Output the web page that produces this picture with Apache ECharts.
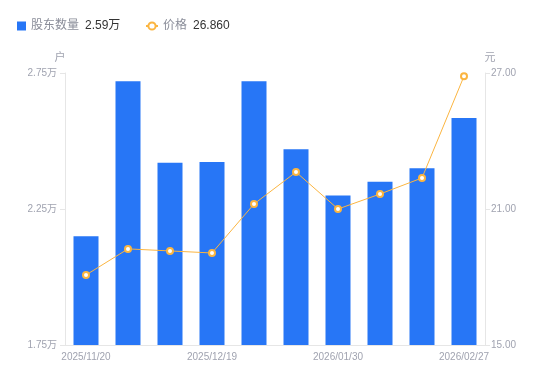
<!DOCTYPE html>
<html><head><meta charset="utf-8">
<script src="https://cdn.jsdelivr.net/npm/echarts@6/dist/echarts.min.js"></script>
<style>html,body{margin:0;padding:0;background:#fff}#c{width:550px;height:381px}</style>
</head><body><div id="c"></div>
<script>
const categories = ['2025/11/20','2025/11/30','2025/12/10','2025/12/19','2025/12/31','2026/01/20','2026/01/30','2026/02/10','2026/02/20','2026/02/27'];
const holders = [2.15, 2.72, 2.42, 2.423, 2.72, 2.47, 2.30, 2.35, 2.40, 2.585];
const prices = [18.09, 19.24, 19.15, 19.06, 21.22, 22.63, 21.00, 21.66, 22.37, 26.86];
const leftTicks = {min:1.75, max:2.75, interval:0.5};
const rightTicks = {min:15, max:27, interval:6};
const legendValues = {'股东数量':'2.59万','价格':'26.860'};

const chart = echarts.init(document.getElementById('c'));
const font = '"Liberation Sans", "Noto Sans CJK SC", sans-serif';
const rich = {n:{color:'#8a8d99',fontSize:12,fontFamily:font}, v:{color:'#333',fontSize:12,fontFamily:font,padding:[0,0,0,6]}};
const axisLabelColor = '#a0a3b0';
chart.setOption({
  animation:false,
  textStyle:{fontFamily:font},
  legend:[
    {left:12,top:15,itemWidth:9,itemHeight:9,itemGap:5,data:[{name:'股东数量',icon:'rect'}],
     formatter:n=>'{n|'+n+'}{v|'+legendValues[n]+'}',textStyle:{rich}},
    {left:140,top:15,itemWidth:12,itemHeight:9,data:['价格'],
     formatter:n=>'{n|'+n+'}{v|'+legendValues[n]+'}',textStyle:{rich}}
  ],
  grid:{left:65,right:65,top:73,bottom:36,containLabel:false},
  xAxis:{type:'category',data:categories,
    axisLine:{lineStyle:{color:'#e6e6e6'}},axisTick:{show:false},
    axisLabel:{color:axisLabelColor,fontSize:10,interval:2,margin:7}},
  yAxis:[
    {type:'value',name:'户',nameTextStyle:{color:axisLabelColor,fontSize:11,padding:[0,0,0,-10]},nameGap:10,
     min:leftTicks.min,max:leftTicks.max,interval:leftTicks.interval,
     axisLine:{show:true,lineStyle:{color:'#e6e6e6'}},axisTick:{show:true,length:5,lineStyle:{color:'#e6e6e6'}},
     splitLine:{show:false},
     axisLabel:{color:axisLabelColor,fontSize:10,margin:8,formatter:v=>v.toFixed(2)+'万'}},
    {type:'value',name:'元',nameTextStyle:{color:axisLabelColor,fontSize:11,padding:[0,0,0,10]},nameGap:10,
     min:rightTicks.min,max:rightTicks.max,interval:rightTicks.interval,position:'right',
     axisLine:{show:true,lineStyle:{color:'#e6e6e6'}},axisTick:{show:true,length:5,lineStyle:{color:'#e6e6e6'}},
     splitLine:{show:false},
     axisLabel:{color:axisLabelColor,fontSize:10,margin:6,formatter:v=>v.toFixed(2)}}
  ],
  series:[
    {name:'股东数量',type:'bar',data:holders,barWidth:25,itemStyle:{color:'#2776f6'}},
    {name:'价格',type:'line',yAxisIndex:1,data:prices,symbol:'emptyCircle',symbolSize:6,
     lineStyle:{color:'#fbb540',width:1},itemStyle:{color:'#fbb540',borderWidth:2}}
  ]
});
</script></body></html>
